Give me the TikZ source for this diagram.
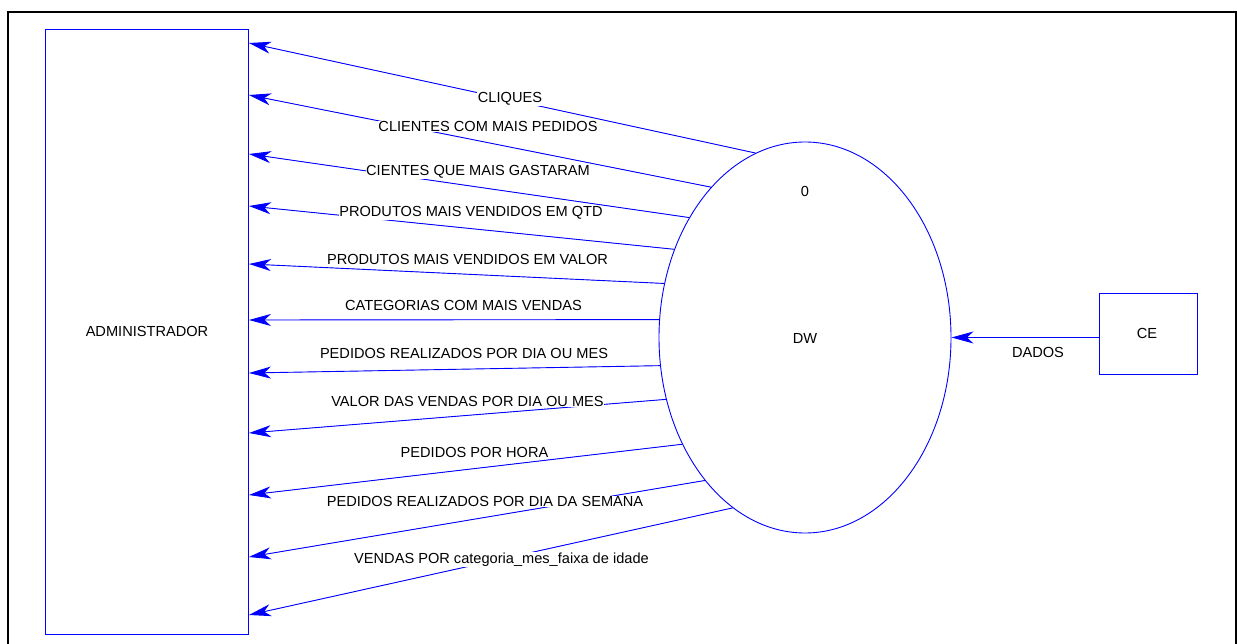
\documentclass[tikz,border=0pt]{standalone}
\usepackage{fontspec}
\setmainfont{Liberation Sans}
\usetikzlibrary{arrows.meta,shapes.geometric}
\definecolor{dfdblue}{RGB}{0,0,255}
\tikzset{
  entity/.style={draw=dfdblue, line width=0.9pt, rectangle, inner sep=0pt},
  process/.style={draw=dfdblue, line width=0.9pt, ellipse, inner sep=0pt},
  flow/.style={draw=dfdblue, line width=0.9pt, -{Stealth[length=22pt,width=12pt,inset=6.5pt]}, fill=dfdblue},
  flowlabel/.style={fill=white, inner sep=0.6pt, text=black, font=\fontsize{14.6}{16}\selectfont},
  txt/.style={inner sep=0pt, text=black, font=\fontsize{14.6}{16}\selectfont}
}
\begin{document}
\begin{tikzpicture}[x=1pt,y=-1pt]
\useasboundingbox (0,0) rectangle (1237,644);
\fill[white] (0,0) rectangle (1237,644);
\draw[line width=2pt] (8,660) -- (8,12) -- (1236,12) -- (1236,660);

\node[entity, minimum width=203pt, minimum height=605pt] (admin) at (147,331.5) {};
\node[txt] (admintxt) at (147,331) {ADMINISTRADOR};
\node[process, minimum width=292pt, minimum height=391pt] (dw) at (805,337.5) {};
\node[txt] (dwnum) at (805,191) {0};
\node[txt] (dwtxt) at (805,338) {DW};
\node[entity, minimum width=98.5pt, minimum height=81pt] (ce) at (1148.5,333.8) {};
\node[txt] (cetxt) at (1147,333) {CE};

% flows
\draw[flow] (dw.105.6) -- (admin.east |- 0,43);
\draw[flow] (dw.122.0) -- (admin.east |- 0,95);
\draw[flow] (dw.134.6) -- (admin.east |- 0,154);
\draw[flow] (dw.146.5) -- (admin.east |- 0,206);
\draw[flow] (dw.159.5) -- (admin.east |- 0,264);
\draw[flow] (dw.173.0) -- (admin.east |- 0,320);
\draw[flow] (dw.191.0) -- (admin.east |- 0,373);
\draw[flow] (dw.204.9) -- (admin.east |- 0,433);
\draw[flow] (dw.221.1) -- (admin.east |- 0,495);
\draw[flow] (dw.235.0) -- (admin.east |- 0,557);
\draw[flow] (dw.247.5) -- (admin.east |- 0,615);
\draw[flow] (ce.west |- 0,337.5) -- (dw.east);

% labels
\node[flowlabel] (l1) at (510,99) {CLIQUES};
\node[flowlabel] (l2) at (488,126.5) {CLIENTES COM MAIS PEDIDOS};
\node[flowlabel] (l3) at (478,172) {CIENTES QUE MAIS GASTARAM};
\node[flowlabel] (l4) at (471,213) {PRODUTOS MAIS VENDIDOS EM QTD};
\node[flowlabel] (l5) at (467.5,259) {PRODUTOS MAIS VENDIDOS EM VALOR};
\node[flowlabel] (l6) at (463.5,305) {CATEGORIAS COM MAIS VENDAS};
\node[flowlabel] (l7) at (464,353) {PEDIDOS REALIZADOS POR DIA OU MES};
\node[flowlabel] (l8) at (467.5,401.5) {VALOR DAS VENDAS POR DIA OU MES};
\node[flowlabel] (l9) at (474.5,452.5) {PEDIDOS POR HORA};
\node[flowlabel] (l10) at (485,501.5) {PEDIDOS REALIZADOS POR DIA DA SEMANA};
\node[flowlabel] (l11) at (501.5,559.5) {VENDAS POR categoria\_mes\_faixa de idade};
\node[txt] (l12) at (1038,352) {DADOS};
\end{tikzpicture}
\end{document}
